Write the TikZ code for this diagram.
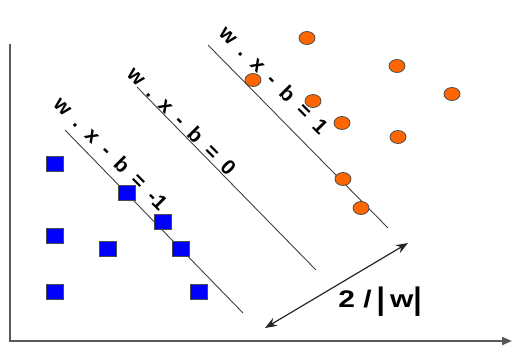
\documentclass[tikz,border=0pt]{standalone}
\usepackage{fontspec}
\setmainfont{Liberation Sans}
\usepackage{graphicx}
\usetikzlibrary{arrows.meta,shapes.geometric}
\definecolor{orangec}{RGB}{255,102,0}
\definecolor{bluec}{RGB}{0,0,250}
\newcommand{\tsp}{\hspace{11pt}}
\newcommand{\tallbar}{\raisebox{-2pt}{\scalebox{1}[1.3]{|}}}
\begin{document}
\begin{tikzpicture}[x=1pt,y=-1pt,
  sq/.style={draw=black!70, fill=bluec, minimum width=17pt, minimum height=15pt, inner sep=0pt, line width=0.8pt},
  dot/.style={ellipse, draw=black!70, fill=orangec, minimum width=16pt, minimum height=13pt, inner sep=0pt, line width=0.8pt},
  hyper/.style={draw=black!75, line width=0.9pt},
  lbl/.style={font=\bfseries\fontsize{21}{21}\selectfont, rotate=-45, inner sep=0pt},
  axisline/.style={draw=black!65, line width=2pt}]
\useasboundingbox (0,0) rectangle (513,346);
% axes
\coordinate (yt) at (10,44);
\coordinate (o) at (10,341);
\coordinate (xr) at (512,341);
\draw[axisline, -{Triangle[length=10pt,width=8pt]}] (yt) -- (o) -- (xr);
% hyperplanes
\coordinate (a1) at (65,130); \coordinate (b1) at (243,313);
\coordinate (a2) at (137,87); \coordinate (b2) at (316,270);
\coordinate (a3) at (208,45); \coordinate (b3) at (388,228);
\draw[hyper] (a1) -- (b1);
\draw[hyper] (a2) -- (b2);
\draw[hyper] (a3) -- (b3);
% labels
\node[lbl] (l1) at (111,153) {w\tsp.\tsp x\tsp -\tsp b\tsp =\tsp -1};
\node[lbl] (l2) at (182,121) {w\tsp.\tsp x\tsp -\tsp b\tsp =\tsp 0};
\node[lbl] (l3) at (274,80) {w\tsp.\tsp x\tsp -\tsp b\tsp =\tsp 1};
% squares
\node[sq] (s1) at (55,164) {};
\node[sq] (s2) at (127,193) {};
\node[sq] (s3) at (163,222) {};
\node[sq] (s4) at (55,236) {};
\node[sq] (s5) at (108,249) {};
\node[sq] (s6) at (181,249) {};
\node[sq] (s7) at (55,292) {};
\node[sq] (s8) at (199,292) {};
% circles
\node[dot] (c1) at (307,38) {};
\node[dot] (c2) at (397,66) {};
\node[dot] (c3) at (253,80) {};
\node[dot] (c4) at (452,94) {};
\node[dot] (c5) at (313,101) {};
\node[dot] (c6) at (342,123) {};
\node[dot] (c7) at (398,137) {};
\node[dot] (c8) at (343,179) {};
\node[dot] (c9) at (361,208) {};
% margin arrow
\coordinate (ma) at (265,328);
\coordinate (mb) at (408,243);
\draw[black!85, line width=1.2pt, {Stealth[length=12pt,width=9pt]}-{Stealth[length=12pt,width=9pt]}] (ma) -- (mb);
\node[font=\bfseries\fontsize{24}{24}\selectfont, inner sep=0pt] (m) at (380,302) {\scalebox{1.25}[1]{2 /\,\tallbar\,w\tallbar}};
\end{tikzpicture}
\end{document}
